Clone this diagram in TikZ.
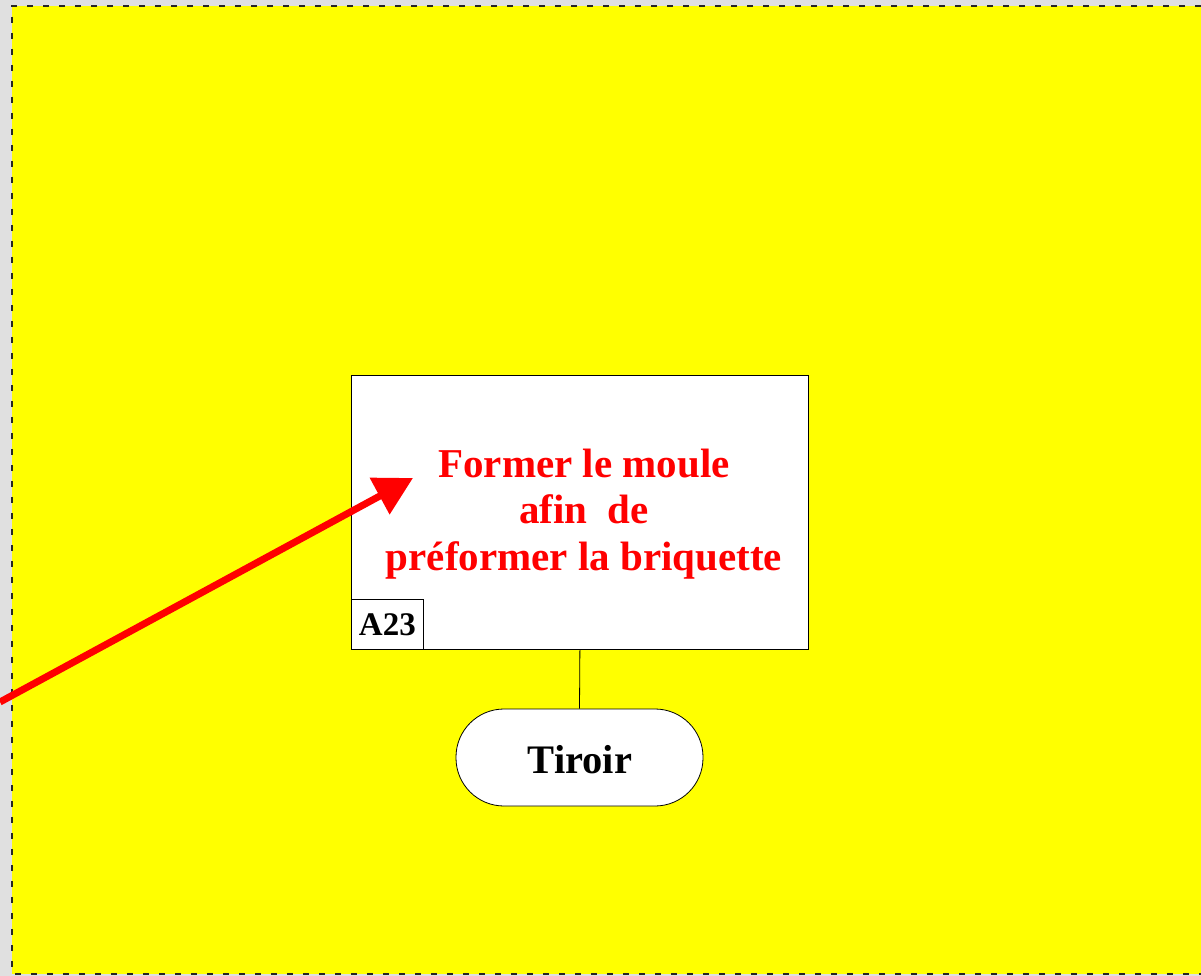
\documentclass[tikz,border=0pt]{standalone}
\usepackage{fontspec}
\setmainfont{Liberation Serif}
\usetikzlibrary{arrows.meta}
\definecolor{bggrey}{HTML}{E0E0E0}
\definecolor{bgyellow}{HTML}{FFFF00}
\tikzset{
  framebox/.style={draw=black, line width=0.8pt, fill=white, inner sep=0pt},
  redtext/.style={text=red, font=\fontsize{41}{46.5}\selectfont\bfseries, align=center, inner sep=0pt},
  blacktext/.style={text=black, font=\fontsize{40.5}{46}\selectfont\bfseries},
  smalltag/.style={draw=black, line width=0.8pt, fill=white, inner sep=0pt, font=\fontsize{33}{36}\selectfont\bfseries},
  redarrow/.style={draw=red, line width=7pt, -{Triangle[length=38pt,width=40pt]}},
  link/.style={draw=black, line width=0.8pt},
  borderline/.style={draw=black!85, line width=1.5pt, dash pattern=on 6pt off 10pt}
}
\begin{document}
\begin{tikzpicture}[x=1pt,y=-1pt]
\useasboundingbox (0,0) rectangle (1201,976);
\fill[bggrey] (0,0) rectangle (1201,976);
\fill[bgyellow] (12,6) rectangle (1201,974);
\draw[borderline] (1201,6) -- (12,6) -- (12,974) -- (1201,974);
% main box
\node[framebox, minimum width=457pt, minimum height=274pt, anchor=north west] (main) at (351,375) {};
\node[redtext] (label) at (584,514) {Former le moule\\afin\ \ de\\préformer la briquette};
\node[smalltag, minimum width=72pt, minimum height=50pt, anchor=south west] (tag) at (main.south west) {A23};
% Tiroir
\node[framebox, minimum width=247pt, minimum height=97pt, rounded corners=48pt] (tiroir) at (579.5,757.5) {};
\node[blacktext, inner sep=0pt] (tirlabel) at (580,760) {Tiroir};
\draw[link] (main.south) -- (tiroir.north);
% arrow
\coordinate (arrstart) at (0,702);
\coordinate (arrtip) at (413,478);
\draw[redarrow] (arrstart) -- (arrtip);
\end{tikzpicture}
\end{document}
